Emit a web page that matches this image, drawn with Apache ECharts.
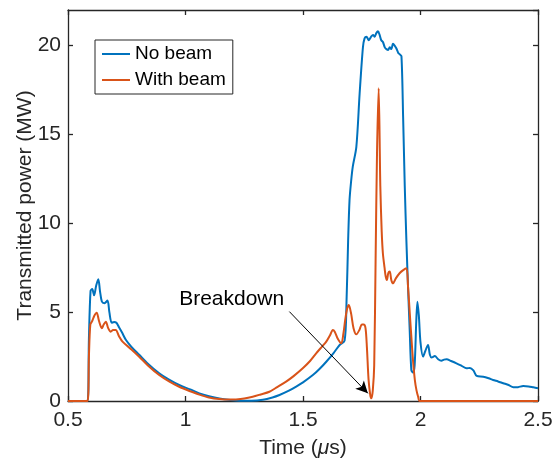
<!DOCTYPE html>
<html>
<head>
<meta charset="utf-8">
<script src="https://cdn.jsdelivr.net/npm/echarts@6/dist/echarts.min.js"></script>
<style>html,body{margin:0;padding:0;background:#fff;}#c{width:559px;height:460px;}</style>
</head>
<body>
<div id="c"></div>
<script>
var seriesNames = ['No beam', 'With beam'];
var xTicks = [0.5, 1, 1.5, 2, 2.5];
var yTicks = [0, 5, 10, 15, 20];

var noBeamTime = [0.5,0.583,0.589,0.596,0.603,0.611,0.620,0.629,0.636,0.644,0.655,0.668,0.676,0.686,0.696,0.706,0.717,0.73,0.746,0.77,0.803,0.84,0.888,0.93,0.973,1.02,1.059,1.10,1.144,1.19,1.229,1.28,1.329,1.37,1.40,1.44,1.471,1.50,1.542,1.57,1.599,1.63,1.656,1.677,1.685,1.692,1.698,1.705,1.712,1.727,1.741,1.755,1.762,1.77,1.78,1.79,1.798,1.805,1.812,1.819,1.826,1.833,1.84,1.848,1.855,1.862,1.869,1.876,1.883,1.89,1.897,1.905,1.912,1.919,1.926,1.933,1.94,1.947,1.954,1.961,1.968,1.975,1.982,1.987,1.993,2.0,2.011,2.02,2.032,2.04,2.047,2.061,2.075,2.089,2.10,2.111,2.13,2.153,2.175,2.196,2.21,2.225,2.239,2.267,2.29,2.309,2.33,2.352,2.375,2.395,2.415,2.437,2.46,2.48,2.5];
var noBeamPower = [0,0,3.5,6.2,6.3,5.95,6.5,6.85,6.2,5.6,5.5,5.65,5.0,4.4,4.45,4.4,4.15,3.85,3.45,3.05,2.6,2.1,1.56,1.2,0.9,0.65,0.43,0.27,0.14,0.06,0.02,0.02,0.07,0.2,0.34,0.58,0.81,1.05,1.46,1.8,2.21,2.7,3.15,3.4,5.5,9.0,11.3,12.4,13.2,14.3,17.3,19.9,20.4,20.5,20.3,20.5,20.6,20.5,20.7,20.8,20.6,20.3,20.2,19.9,19.8,19.75,19.9,19.8,20.1,20.0,19.85,19.6,19.5,19.4,16,12.1,9.0,6.4,4.0,1.74,1.6,2.0,4.5,5.59,4.8,3.3,2.5,2.8,3.15,2.6,2.45,2.53,2.35,2.27,2.33,2.35,2.25,2.12,1.98,1.84,1.86,1.72,1.41,1.37,1.28,1.18,1.1,1.0,0.9,0.77,0.78,0.84,0.82,0.77,0.72];

var withBeamTime = [0.5,0.583,0.589,0.595,0.603,0.612,0.622,0.632,0.644,0.652,0.661,0.671,0.682,0.692,0.703,0.717,0.732,0.77,0.803,0.84,0.888,0.93,0.973,1.02,1.059,1.10,1.144,1.19,1.215,1.25,1.286,1.32,1.357,1.39,1.428,1.46,1.499,1.53,1.556,1.58,1.599,1.615,1.627,1.635,1.648,1.663,1.672,1.68,1.688,1.695,1.705,1.715,1.727,1.74,1.75,1.758,1.766,1.772,1.779,1.786,1.791,1.797,1.803,1.809,1.815,1.822,1.829,1.835,1.84,1.847,1.852,1.857,1.863,1.869,1.876,1.883,1.895,1.911,1.925,1.94,1.947,1.954,1.961,1.968,1.976,1.983,1.99,1.997,2.5];
var withBeamPower = [0,0,2.5,4.3,4.5,4.8,4.97,4.5,4.1,4.3,4.46,4.1,3.9,4.0,4.0,3.65,3.34,2.9,2.49,2.0,1.46,1.1,0.8,0.55,0.36,0.2,0.11,0.08,0.09,0.14,0.24,0.37,0.52,0.78,1.09,1.4,1.84,2.25,2.68,3.05,3.34,3.7,4.0,3.9,3.5,3.25,3.8,4.6,5.2,5.4,4.9,4.1,3.75,4.0,4.3,4.3,4.1,3.0,1.2,0.35,0.15,0.6,2.0,8.0,14.0,17.6,12.1,9.5,8.3,7.5,7.0,6.81,7.2,7.28,6.8,6.62,6.9,7.19,7.35,7.47,6.43,5.0,3.62,2.3,1.18,0.6,0.24,0,0];

var annotationText = 'Breakdown';
var annotationTextAt = [0.973, 5.74];
var arrowFrom = [1.442, 5.03];
var arrowTo = [1.776, 0.43];

function pairs(t, v) { return t.map(function (x, i) { return [x, v[i]]; }); }

var axisColor = '#262626';
var font = 'Liberation Sans, Arial, Helvetica, sans-serif';

var chart = echarts.init(document.getElementById('c'), null, { renderer: 'canvas' });
chart.setOption({
  animation: false,
  backgroundColor: '#ffffff',
  grid: { left: 68, right: 21, top: 10, bottom: 59, containLabel: false, outerBoundsMode: 'none' },
  legend: {
    orient: 'vertical', left: 95, top: 40,
    data: seriesNames.map(function (n) { return { name: n, icon: 'rect' }; }),
    itemWidth: 28, itemHeight: 2, itemGap: 6,
    padding: [4, 7, 4, 7],
    borderColor: axisColor, borderWidth: 1, backgroundColor: '#ffffff',
    textStyle: { fontFamily: font, fontSize: 19, color: '#000', lineHeight: 20 }
  },
  xAxis: [{
    type: 'value', min: 0.5, max: 2.5, interval: 0.5,
    name: 'Time ({i|\u03bc}s)', nameLocation: 'middle', nameGap: 37, nameMoveOverlap: false,
    nameTextStyle: { fontFamily: font, fontSize: 21, color: axisColor, verticalAlign: 'top',
      rich: { i: { fontFamily: font, fontSize: 21, fontStyle: 'italic', color: axisColor } } },
    axisLine: { show: true, onZero: false, lineStyle: { color: axisColor, width: 1.3 } },
    axisTick: { show: true, inside: true, length: 5, lineStyle: { color: axisColor, width: 1.3 } },
    axisLabel: { fontFamily: font, fontSize: 21, color: axisColor, margin: 9,
      formatter: function (v) { return String(v); } },
    splitLine: { show: false }
  }, {
    type: 'value', position: 'top', min: 0.5, max: 2.5, interval: 0.5,
    axisLine: { show: true, onZero: false, lineStyle: { color: axisColor, width: 1.3 } },
    axisTick: { show: true, inside: true, length: 5, lineStyle: { color: axisColor, width: 1.3 } },
    axisLabel: { show: false }, splitLine: { show: false }
  }],
  yAxis: [{
    type: 'value', min: 0, max: 22, interval: 5,
    name: 'Transmitted power (MW)', nameLocation: 'middle', nameGap: 32, nameMoveOverlap: false,
    nameTextStyle: { fontFamily: font, fontSize: 21, color: axisColor },
    axisLine: { show: true, onZero: false, lineStyle: { color: axisColor, width: 1.3 } },
    axisTick: { show: true, inside: true, length: 5, lineStyle: { color: axisColor, width: 1.3 } },
    axisLabel: { fontFamily: font, fontSize: 21, color: axisColor, margin: 7, showMaxLabel: false },
    splitLine: { show: false }
  }, {
    type: 'value', position: 'right', min: 0, max: 22, interval: 5,
    axisLine: { show: true, onZero: false, lineStyle: { color: axisColor, width: 1.3 } },
    axisTick: { show: true, inside: true, length: 5, lineStyle: { color: axisColor, width: 1.3 } },
    axisLabel: { show: false }, splitLine: { show: false }
  }],
  series: [{
    name: seriesNames[0], type: 'line', data: pairs(noBeamTime, noBeamPower),
    showSymbol: false, symbol: 'none', smooth: 0.3,
    lineStyle: { color: '#0072BD', width: 2 }, itemStyle: { color: '#0072BD' }
  }, {
    name: seriesNames[1], type: 'line', data: pairs(withBeamTime, withBeamPower),
    showSymbol: false, symbol: 'none', smooth: 0.3,
    lineStyle: { color: '#D95319', width: 2 }, itemStyle: { color: '#D95319' },
    markLine: {
      silent: true, animation: false,
      symbol: ['none', 'arrow'], symbolSize: [9, 12],
      label: { show: false },
      lineStyle: { color: '#000', width: 1, type: 'solid' },
      data: [[{ coord: arrowFrom }, { coord: arrowTo }]]
    },
    markPoint: {
      silent: true, animation: false,
      symbol: 'circle', symbolSize: 0,
      label: { show: true, position: 'right', distance: 0, formatter: annotationText,
        fontFamily: font, fontSize: 21, color: '#000' },
      data: [{ coord: annotationTextAt }]
    }
  }]
});
</script>
</body>
</html>
